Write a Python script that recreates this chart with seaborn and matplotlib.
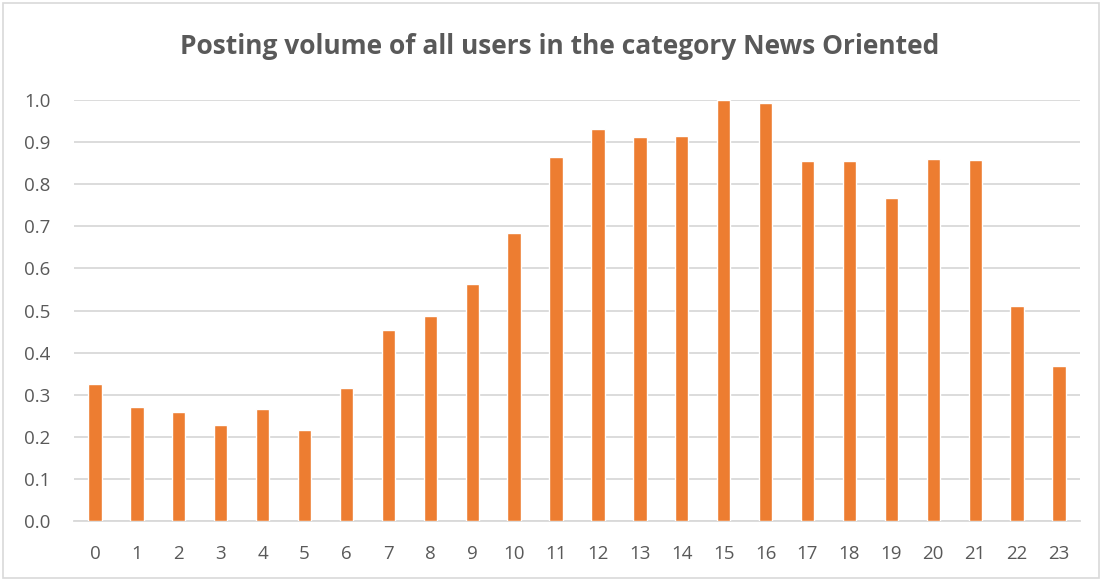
import numpy as np
import seaborn as sns
import matplotlib.pyplot as plt
import pandas as pd
from matplotlib.patches import Rectangle

hours = [str(h) for h in range(24)]
volume = [0.326, 0.270, 0.260, 0.228, 0.267, 0.217, 0.317, 0.454,
          0.486, 0.562, 0.685, 0.865, 0.932, 0.911, 0.915, 1.000,
          0.993, 0.856, 0.855, 0.768, 0.861, 0.857, 0.511, 0.369]
title = "Posting volume of all users in the category News Oriented"

df = pd.DataFrame({"hour": hours, "volume": volume})

sns.set_style("white")
plt.rcParams['font.family'] = ['Open Sans', 'DejaVu Sans']

fig = plt.figure(figsize=(11.02, 5.79), dpi=100)
ax = fig.add_axes([74 / 1102, 58 / 579, (1080 - 74) / 1102, (521 - 100) / 579])

sns.barplot(data=df, x="hour", y="volume", color="#ED7D31", width=0.32,
            saturation=1, ax=ax, zorder=3)

ax.set_ylim(0, 1.0)
ax.set_xlim(-0.5, 23.5)
ax.set_yticks(np.arange(0, 1.01, 0.1))
ax.set_yticklabels([f"{v:.1f}" for v in np.arange(0, 1.01, 0.1)])
ax.grid(axis="y", color="#D9D9D9", linewidth=1.3, zorder=0)
ax.set_axisbelow(True)
for s in ["top", "right", "left"]:
    ax.spines[s].set_visible(False)
ax.spines["bottom"].set_color("#D9D9D9")
ax.spines["bottom"].set_linewidth(1.3)
ax.tick_params(axis="both", length=0, labelsize=13.5, colors="#595959")
ax.tick_params(axis="x", pad=17)
ax.tick_params(axis="y", pad=17)
ax.set_xlabel("")
ax.set_ylabel("")

fig.text(0.508, 1 - 47 / 579, title, ha="center", va="center",
         fontsize=19, fontweight="bold", color="#595959")

fig.patches.append(Rectangle((3 / 1102, 1 / 579), 1096 / 1102, 575 / 579,
                             transform=fig.transFigure, fill=False,
                             edgecolor="#D9D9D9", linewidth=1.2))

fig.savefig("out.png", dpi=100)
